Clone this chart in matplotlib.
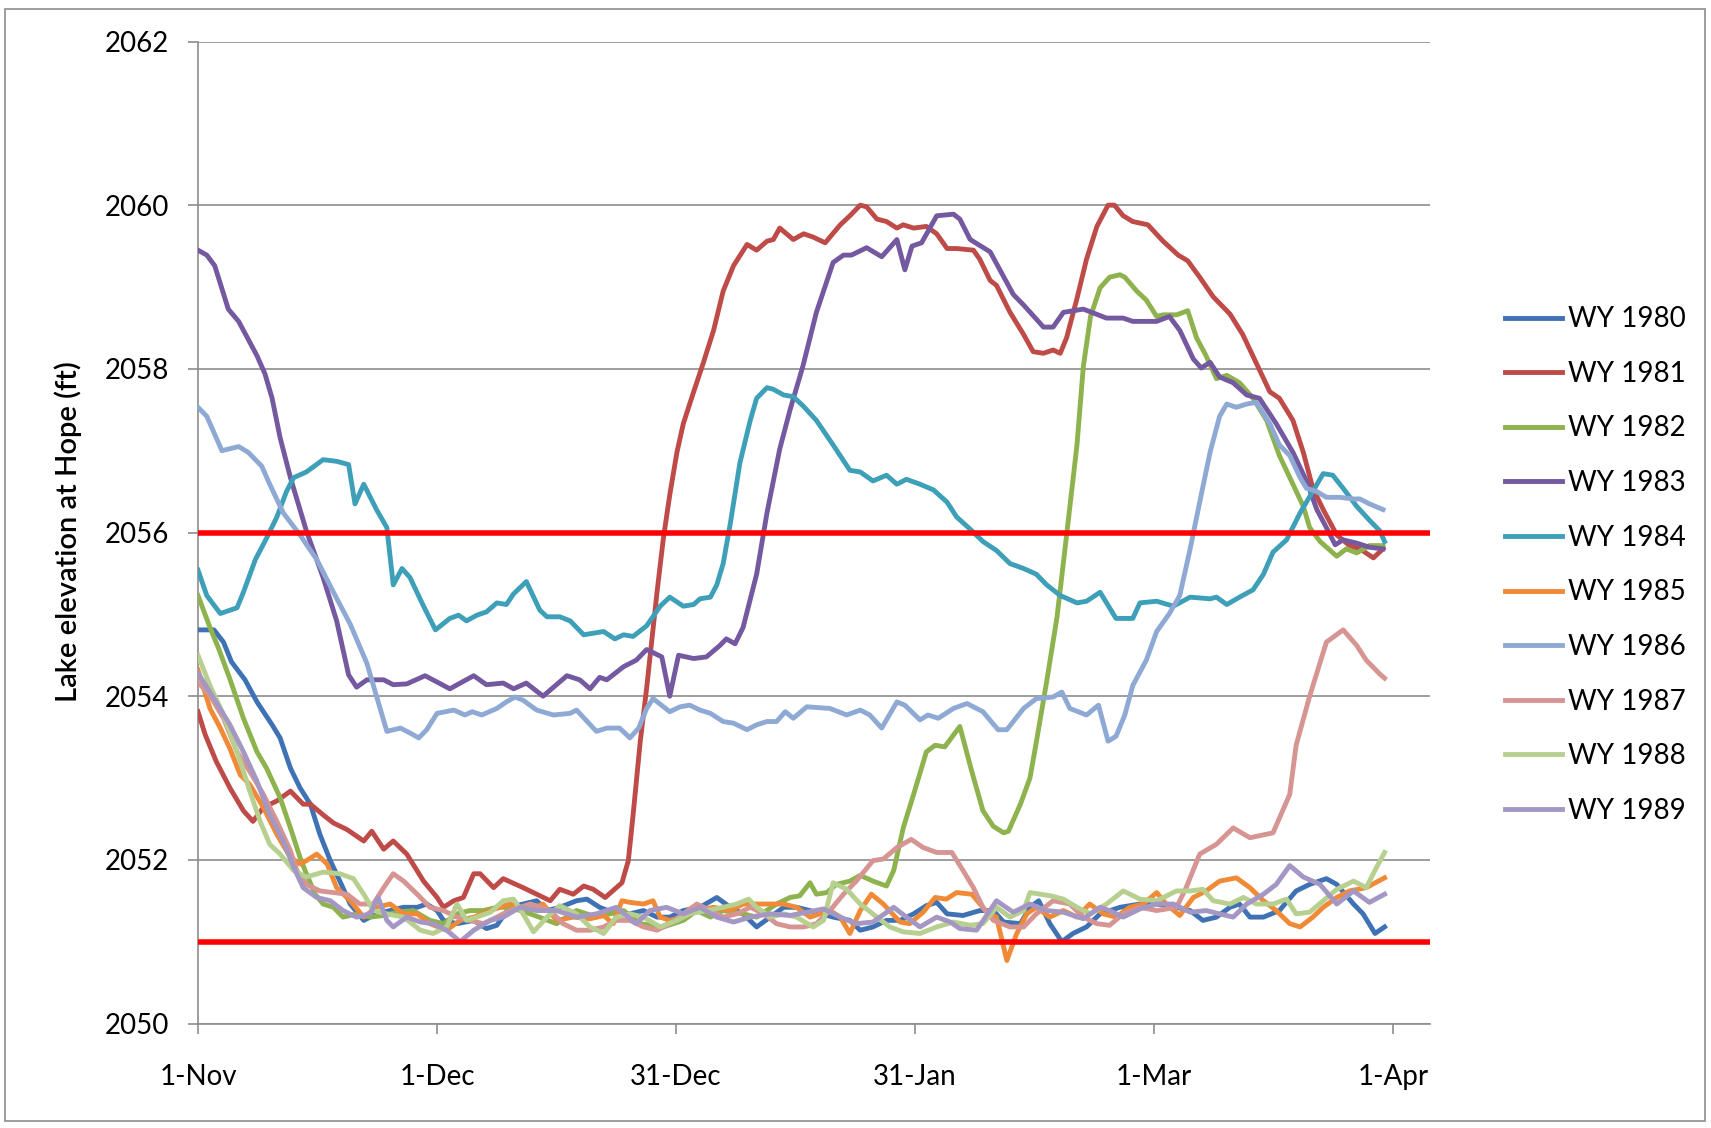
import matplotlib
matplotlib.use("Agg")
import matplotlib.pyplot as plt
from matplotlib.patches import Rectangle

plt.rcParams['font.family'] = ['Lato', 'DejaVu Sans']

# day index from 1-Nov, lake elevation (ft)
wy1980 = [(0, 2054.81), (2.0, 2054.81), (3.2, 2054.66), (4.2, 2054.42), (5.9, 2054.2), (7.4, 2053.93),
          (9.3, 2053.65), (10.3, 2053.49), (11.6, 2053.12), (12.8, 2052.88), (14.1, 2052.68), (15.3, 2052.31),
          (16.6, 2051.99), (17.8, 2051.74), (19.1, 2051.46), (20.8, 2051.26), (22.4, 2051.34), (24.1, 2051.38),
          (25.8, 2051.42), (27.5, 2051.42), (28.7, 2051.46), (30.0, 2051.38), (30.8, 2051.26), (32.5, 2051.22),
          (34.6, 2051.26), (36.2, 2051.16), (37.5, 2051.2), (39.1, 2051.42), (40.8, 2051.46), (42.5, 2051.5),
          (43.8, 2051.38), (45.4, 2051.42), (47.5, 2051.5), (48.8, 2051.52), (50.4, 2051.42), (52.5, 2051.34),
          (54.2, 2051.34), (55.9, 2051.38), (57.6, 2051.3), (59.2, 2051.3), (60.9, 2051.38), (63.0, 2051.42),
          (65.1, 2051.54), (66.8, 2051.42), (68.4, 2051.34), (70.1, 2051.18), (71.8, 2051.3), (73.5, 2051.42),
          (75.1, 2051.42), (76.8, 2051.38), (79.7, 2051.3), (81.8, 2051.26), (83.1, 2051.14), (84.7, 2051.18),
          (86.4, 2051.26), (88.1, 2051.26), (89.8, 2051.34), (91.4, 2051.44), (92.7, 2051.48), (94.0, 2051.34),
          (96.0, 2051.32), (98.1, 2051.38), (99.8, 2051.38), (101.1, 2051.24), (103.2, 2051.22), (104.4, 2051.42),
          (105.5, 2051.5), (106.9, 2051.22), (108.4, 2051.0), (109.8, 2051.1), (111.5, 2051.18), (113.2, 2051.34),
          (115.7, 2051.42), (118.2, 2051.46), (120.3, 2051.46), (122.8, 2051.42), (124.5, 2051.38), (126.1, 2051.26),
          (127.8, 2051.3), (129.5, 2051.42), (130.7, 2051.46), (132.0, 2051.3), (133.7, 2051.3), (135.7, 2051.38),
          (137.8, 2051.62), (139.5, 2051.7), (141.6, 2051.77), (142.9, 2051.7), (145.0, 2051.46), (146.2, 2051.34),
          (147.7, 2051.1), (148.9, 2051.18)]

wy1981 = [(0, 2053.81), (0.9, 2053.53), (2.3, 2053.2), (4.0, 2052.88), (5.7, 2052.6), (6.9, 2052.47),
          (8.2, 2052.64), (9.9, 2052.72), (11.6, 2052.84), (12.4, 2052.76), (13.2, 2052.68), (14.1, 2052.68),
          (15.7, 2052.55), (17.0, 2052.45), (18.7, 2052.37), (20.8, 2052.23), (21.8, 2052.35), (23.3, 2052.13),
          (24.5, 2052.23), (26.2, 2052.07), (28.3, 2051.74), (30.0, 2051.54), (30.8, 2051.42), (32.1, 2051.5),
          (33.3, 2051.54), (34.6, 2051.83), (35.4, 2051.83), (37.1, 2051.66), (38.3, 2051.77), (40.8, 2051.66),
          (44.2, 2051.5), (45.4, 2051.64), (47.1, 2051.58), (48.4, 2051.68), (49.6, 2051.64), (51.1, 2051.54),
          (53.2, 2051.72), (54.0, 2051.99), (54.6, 2052.55), (55.5, 2053.45), (56.3, 2054.1), (57.6, 2055.27),
          (58.4, 2055.93), (59.2, 2056.46), (60.1, 2056.98), (60.9, 2057.33), (62.2, 2057.72), (63.4, 2058.07),
          (64.7, 2058.47), (65.9, 2058.95), (67.2, 2059.26), (68.9, 2059.52), (70.1, 2059.45), (71.4, 2059.56),
          (72.2, 2059.58), (73.0, 2059.72), (74.7, 2059.58), (76.0, 2059.65), (77.2, 2059.61), (78.7, 2059.54),
          (80.6, 2059.76), (81.8, 2059.87), (83.1, 2060.0), (83.9, 2059.98), (85.2, 2059.83), (86.4, 2059.8),
          (87.7, 2059.72), (88.5, 2059.76), (89.8, 2059.72), (91.4, 2059.74), (92.7, 2059.65), (94.0, 2059.47),
          (95.2, 2059.47), (97.3, 2059.45), (98.1, 2059.34), (99.4, 2059.08), (100.2, 2059.02), (101.9, 2058.69),
          (103.6, 2058.42), (104.8, 2058.21), (106.1, 2058.19), (107.3, 2058.23), (108.2, 2058.19), (109.0, 2058.38),
          (110.3, 2058.86), (111.5, 2059.34), (112.8, 2059.74), (114.2, 2060.0), (115.0, 2060.0), (116.1, 2059.87),
          (117.3, 2059.8), (119.2, 2059.76), (121.1, 2059.56), (123.0, 2059.39), (124.2, 2059.32), (125.7, 2059.12),
          (127.4, 2058.88), (129.5, 2058.67), (131.1, 2058.42), (132.8, 2058.07), (134.5, 2057.72), (135.7, 2057.64),
          (137.4, 2057.37), (138.7, 2056.98), (139.9, 2056.54), (141.2, 2056.28), (142.9, 2055.97), (144.5, 2055.84),
          (145.8, 2055.8), (147.5, 2055.69), (148.7, 2055.8)]

wy1982 = [(0, 2055.23), (1.5, 2054.84), (2.6, 2054.58), (4.0, 2054.21), (5.7, 2053.73), (7.4, 2053.32),
          (8.6, 2053.12), (10.3, 2052.76), (11.6, 2052.39), (12.8, 2052.03), (13.6, 2051.83), (14.7, 2051.58),
          (15.7, 2051.46), (17.0, 2051.42), (18.2, 2051.3), (19.9, 2051.34), (21.6, 2051.3), (23.3, 2051.32),
          (25.0, 2051.36), (27.0, 2051.38), (29.1, 2051.26), (30.8, 2051.22), (32.5, 2051.34), (34.1, 2051.38),
          (35.8, 2051.38), (37.5, 2051.42), (39.1, 2051.42), (41.7, 2051.34), (45.0, 2051.22), (47.5, 2051.38),
          (50.0, 2051.3), (53.4, 2051.38), (55.5, 2051.22), (58.4, 2051.18), (60.9, 2051.26), (62.6, 2051.38),
          (64.3, 2051.3), (65.9, 2051.38), (68.4, 2051.34), (70.1, 2051.3), (72.6, 2051.46), (74.3, 2051.54),
          (75.5, 2051.56), (76.8, 2051.72), (77.6, 2051.58), (78.9, 2051.6), (80.1, 2051.7), (81.8, 2051.74),
          (83.1, 2051.81), (84.7, 2051.74), (86.4, 2051.68), (87.3, 2051.87), (88.5, 2052.39), (89.8, 2052.8),
          (91.4, 2053.32), (92.5, 2053.4), (93.7, 2053.38), (95.6, 2053.63), (97.1, 2053.08), (98.5, 2052.6),
          (99.8, 2052.41), (101.1, 2052.33), (101.7, 2052.35), (103.2, 2052.68), (104.4, 2053.0), (105.2, 2053.44),
          (106.5, 2054.18), (107.8, 2054.97), (109.0, 2055.97), (110.3, 2057.07), (111.1, 2058.03), (112.0, 2058.64),
          (113.2, 2058.99), (114.4, 2059.12), (115.7, 2059.15), (116.3, 2059.12), (117.8, 2058.95), (119.0, 2058.84),
          (120.3, 2058.64), (121.1, 2058.66), (122.8, 2058.66), (124.2, 2058.71), (125.3, 2058.38), (126.5, 2058.16),
          (127.8, 2057.88), (129.1, 2057.92), (130.7, 2057.83), (132.4, 2057.64), (134.1, 2057.37), (135.7, 2056.94),
          (137.4, 2056.59), (138.7, 2056.32), (139.5, 2056.06), (140.8, 2055.89), (142.9, 2055.71), (144.1, 2055.8),
          (145.4, 2055.75), (147.0, 2055.84), (148.7, 2055.84)]

wy1983 = [(0, 2059.45), (1.1, 2059.39), (2.1, 2059.26), (3.8, 2058.73), (5.1, 2058.58), (7.4, 2058.16),
          (8.4, 2057.94), (9.3, 2057.64), (10.3, 2057.16), (11.6, 2056.67), (13.6, 2056.02), (15.7, 2055.45),
          (17.4, 2054.92), (18.9, 2054.26), (19.9, 2054.11), (21.2, 2054.2), (23.3, 2054.2), (24.5, 2054.14),
          (26.2, 2054.15), (28.5, 2054.25), (31.6, 2054.09), (34.6, 2054.25), (36.2, 2054.14), (38.3, 2054.16),
          (39.6, 2054.09), (41.2, 2054.16), (43.3, 2054.0), (46.3, 2054.25), (47.9, 2054.2), (49.2, 2054.09),
          (50.4, 2054.23), (51.3, 2054.2), (53.4, 2054.36), (55.0, 2054.44), (56.3, 2054.57), (58.2, 2054.48),
          (59.2, 2054.0), (60.3, 2054.5), (62.2, 2054.46), (63.8, 2054.48), (65.5, 2054.62), (66.3, 2054.7),
          (67.4, 2054.64), (68.4, 2054.84), (70.1, 2055.49), (71.4, 2056.24), (73.0, 2057.02), (74.3, 2057.5),
          (75.9, 2058.03), (77.6, 2058.69), (79.7, 2059.3), (81.0, 2059.39), (82.0, 2059.39), (83.9, 2059.48),
          (85.8, 2059.37), (87.7, 2059.58), (88.7, 2059.21), (89.6, 2059.5), (90.8, 2059.54), (92.7, 2059.87),
          (94.8, 2059.89), (95.6, 2059.83), (96.9, 2059.58), (99.4, 2059.43), (102.3, 2058.91), (103.6, 2058.78),
          (106.1, 2058.51), (107.3, 2058.51), (108.6, 2058.69), (111.1, 2058.73), (114.0, 2058.62), (116.1, 2058.62),
          (117.3, 2058.58), (120.3, 2058.58), (121.9, 2058.64), (123.2, 2058.47), (124.9, 2058.12), (125.9, 2058.01),
          (127.0, 2058.08), (128.2, 2057.9), (129.9, 2057.83), (131.6, 2057.68), (133.2, 2057.64), (135.3, 2057.33),
          (137.4, 2056.98), (139.1, 2056.63), (140.4, 2056.28), (141.6, 2056.06), (142.7, 2055.85), (143.7, 2055.91),
          (145.4, 2055.87), (147.0, 2055.82), (148.7, 2055.8)]

wy1984 = [(0, 2055.54), (1.1, 2055.23), (2.8, 2055.01), (4.9, 2055.08), (5.7, 2055.27), (7.2, 2055.67),
          (8.6, 2055.93), (9.9, 2056.19), (11.1, 2056.5), (12.0, 2056.67), (13.6, 2056.74), (15.7, 2056.89),
          (17.4, 2056.87), (18.9, 2056.83), (19.7, 2056.35), (20.8, 2056.59), (22.4, 2056.28), (23.7, 2056.06),
          (24.5, 2055.36), (25.6, 2055.56), (26.6, 2055.45), (28.3, 2055.1), (29.8, 2054.81), (31.6, 2054.95),
          (32.7, 2054.99), (33.7, 2054.92), (35.0, 2054.99), (36.2, 2055.03), (37.5, 2055.14), (38.7, 2055.12),
          (39.6, 2055.25), (41.2, 2055.4), (42.9, 2055.05), (43.8, 2054.97), (45.4, 2054.97), (46.7, 2054.92),
          (48.4, 2054.75), (50.9, 2054.79), (52.3, 2054.7), (53.4, 2054.75), (54.6, 2054.73), (56.3, 2054.86),
          (58.0, 2055.1), (59.2, 2055.21), (60.9, 2055.1), (62.2, 2055.12), (63.0, 2055.19), (64.3, 2055.21),
          (65.1, 2055.36), (65.9, 2055.62), (66.8, 2056.11), (68.0, 2056.85), (69.3, 2057.37), (70.1, 2057.64),
          (71.4, 2057.77), (72.2, 2057.75), (73.5, 2057.68), (74.7, 2057.66), (75.9, 2057.55), (77.6, 2057.37),
          (79.7, 2057.07), (81.8, 2056.76), (83.1, 2056.74), (84.7, 2056.63), (86.4, 2056.7), (87.7, 2056.59),
          (88.9, 2056.65), (90.6, 2056.59), (92.3, 2056.52), (94.0, 2056.37), (95.2, 2056.19), (96.9, 2056.04),
          (98.5, 2055.89), (100.2, 2055.78), (101.9, 2055.62), (103.6, 2055.56), (105.2, 2055.49), (106.5, 2055.36),
          (108.2, 2055.23), (110.3, 2055.14), (111.5, 2055.16), (113.2, 2055.27), (115.2, 2054.95), (117.3, 2054.95),
          (118.2, 2055.14), (120.3, 2055.16), (122.4, 2055.1), (124.5, 2055.21), (127.0, 2055.19), (127.8, 2055.21),
          (129.1, 2055.12), (130.7, 2055.21), (132.4, 2055.3), (133.7, 2055.49), (134.9, 2055.76), (136.6, 2055.91),
          (138.3, 2056.24), (140.0, 2056.52), (141.2, 2056.72), (142.4, 2056.7), (143.7, 2056.54), (145.4, 2056.32),
          (147.0, 2056.15), (148.3, 2056.02), (148.9, 2055.89)]

wy1985 = [(0, 2054.32), (1.5, 2053.85), (2.8, 2053.61), (4.0, 2053.36), (5.3, 2053.04), (6.5, 2052.92),
          (8.2, 2052.64), (9.9, 2052.31), (11.6, 2052.03), (12.8, 2051.95), (13.6, 2051.99), (14.9, 2052.07),
          (16.2, 2051.95), (17.4, 2051.66), (19.1, 2051.5), (20.8, 2051.3), (22.4, 2051.42), (24.1, 2051.46),
          (25.8, 2051.34), (27.5, 2051.34), (29.1, 2051.22), (31.2, 2051.14), (32.9, 2051.26), (34.6, 2051.3),
          (36.7, 2051.38), (39.1, 2051.46), (41.7, 2051.4), (43.3, 2051.46), (45.0, 2051.26), (47.1, 2051.3),
          (49.2, 2051.28), (50.9, 2051.32), (52.1, 2051.22), (53.2, 2051.5), (54.2, 2051.48), (55.9, 2051.46),
          (57.1, 2051.5), (58.0, 2051.3), (59.2, 2051.26), (60.9, 2051.3), (62.6, 2051.38), (64.7, 2051.42),
          (66.8, 2051.38), (68.4, 2051.46), (70.1, 2051.46), (71.8, 2051.46), (73.5, 2051.46), (75.1, 2051.42),
          (76.8, 2051.3), (79.3, 2051.38), (80.6, 2051.3), (81.8, 2051.1), (83.1, 2051.38), (84.5, 2051.58),
          (86.0, 2051.46), (88.1, 2051.24), (89.3, 2051.22), (91.0, 2051.36), (92.5, 2051.54), (93.9, 2051.52),
          (95.2, 2051.6), (97.1, 2051.58), (99.0, 2051.36), (100.2, 2051.3), (101.5, 2050.77), (102.7, 2051.09),
          (104.0, 2051.34), (105.2, 2051.42), (106.9, 2051.3), (108.6, 2051.38), (110.3, 2051.3), (111.9, 2051.46),
          (113.6, 2051.34), (115.2, 2051.3), (116.9, 2051.42), (118.6, 2051.46), (120.3, 2051.6), (121.5, 2051.46),
          (123.2, 2051.32), (124.9, 2051.54), (126.5, 2051.62), (128.2, 2051.74), (130.3, 2051.78), (132.0, 2051.66),
          (133.7, 2051.5), (135.3, 2051.38), (137.0, 2051.22), (138.3, 2051.18), (139.9, 2051.3), (141.2, 2051.42),
          (142.9, 2051.54), (144.5, 2051.62), (146.6, 2051.66), (148.9, 2051.78)]

wy1986 = [(0, 2057.53), (1.1, 2057.42), (3.0, 2057.0), (5.1, 2057.05), (6.3, 2056.98), (8.0, 2056.81),
          (9.0, 2056.59), (10.7, 2056.24), (12.8, 2055.97), (14.9, 2055.67), (17.0, 2055.27), (19.1, 2054.88),
          (21.2, 2054.4), (22.4, 2054.0), (23.7, 2053.57), (25.4, 2053.61), (26.6, 2053.55), (27.7, 2053.49),
          (28.7, 2053.59), (30.0, 2053.79), (32.1, 2053.83), (33.5, 2053.77), (34.4, 2053.81), (35.6, 2053.77),
          (37.5, 2053.85), (38.7, 2053.93), (39.8, 2053.99), (40.8, 2053.95), (42.5, 2053.83), (44.6, 2053.77),
          (46.7, 2053.79), (47.5, 2053.83), (50.0, 2053.57), (51.3, 2053.61), (52.9, 2053.61), (54.2, 2053.49),
          (55.3, 2053.61), (56.3, 2053.85), (57.1, 2053.97), (59.2, 2053.81), (60.5, 2053.87), (61.7, 2053.89),
          (63.0, 2053.83), (64.3, 2053.79), (65.9, 2053.69), (67.2, 2053.67), (68.9, 2053.59), (70.1, 2053.65),
          (71.4, 2053.69), (72.6, 2053.69), (73.7, 2053.81), (74.7, 2053.73), (76.4, 2053.87), (79.3, 2053.85),
          (81.4, 2053.77), (83.1, 2053.83), (84.3, 2053.77), (85.8, 2053.61), (87.7, 2053.93), (88.7, 2053.89),
          (90.6, 2053.71), (91.6, 2053.77), (92.9, 2053.73), (94.8, 2053.85), (96.5, 2053.91), (98.5, 2053.81),
          (100.4, 2053.59), (101.5, 2053.59), (103.6, 2053.85), (105.2, 2053.97), (107.3, 2053.99), (108.4, 2054.05),
          (109.4, 2053.85), (111.5, 2053.77), (113.0, 2053.89), (114.2, 2053.45), (115.2, 2053.51), (116.3, 2053.77),
          (117.3, 2054.13), (119.0, 2054.44), (120.3, 2054.79), (121.9, 2055.01), (123.2, 2055.23), (124.5, 2055.8),
          (125.7, 2056.37), (127.0, 2056.98), (128.2, 2057.42), (129.1, 2057.57), (130.3, 2057.53), (131.6, 2057.57),
          (132.8, 2057.59), (134.5, 2057.33), (135.7, 2057.07), (137.0, 2056.94), (138.3, 2056.67), (139.1, 2056.54),
          (140.4, 2056.5), (141.6, 2056.43), (143.3, 2056.43), (144.9, 2056.41), (145.8, 2056.41), (147.0, 2056.35),
          (148.7, 2056.28)]

wy1987 = [(0, 2054.17), (1.5, 2054.01), (3.2, 2053.73), (4.9, 2053.32), (6.5, 2053.08), (8.2, 2052.8),
          (9.9, 2052.47), (11.6, 2052.11), (12.4, 2051.87), (13.6, 2051.7), (15.3, 2051.62), (17.0, 2051.6),
          (18.7, 2051.58), (20.3, 2051.46), (22.0, 2051.46), (23.3, 2051.66), (24.5, 2051.83), (25.8, 2051.74),
          (27.5, 2051.58), (29.1, 2051.42), (30.8, 2051.38), (32.5, 2051.3), (34.1, 2051.26), (35.8, 2051.22),
          (37.5, 2051.3), (39.1, 2051.38), (41.7, 2051.46), (44.2, 2051.38), (45.8, 2051.22), (47.5, 2051.14),
          (49.2, 2051.14), (50.9, 2051.18), (52.5, 2051.26), (54.2, 2051.26), (55.9, 2051.18), (57.6, 2051.14),
          (59.2, 2051.22), (60.9, 2051.34), (62.6, 2051.46), (64.3, 2051.38), (65.9, 2051.3), (67.6, 2051.34),
          (69.3, 2051.42), (71.0, 2051.34), (72.6, 2051.22), (74.3, 2051.18), (76.0, 2051.18), (77.6, 2051.22),
          (79.3, 2051.38), (81.0, 2051.58), (82.6, 2051.74), (84.7, 2051.99), (86.0, 2052.01), (87.7, 2052.15),
          (89.5, 2052.25), (91.0, 2052.15), (92.7, 2052.09), (94.6, 2052.09), (96.0, 2051.87), (97.3, 2051.66),
          (98.5, 2051.42), (99.8, 2051.26), (101.9, 2051.18), (103.6, 2051.18), (105.2, 2051.34), (107.3, 2051.5),
          (109.4, 2051.46), (111.1, 2051.3), (112.8, 2051.22), (114.4, 2051.2), (116.1, 2051.34), (118.2, 2051.42),
          (120.3, 2051.38), (122.8, 2051.42), (124.0, 2051.66), (125.7, 2052.07), (127.8, 2052.19), (129.9, 2052.39),
          (132.0, 2052.27), (134.9, 2052.33), (137.0, 2052.8), (137.8, 2053.4), (139.5, 2054.0), (141.6, 2054.66),
          (143.7, 2054.81), (145.4, 2054.62), (146.6, 2054.44), (148.3, 2054.27), (148.9, 2054.22)]

wy1988 = [(0, 2054.5), (1.5, 2054.13), (3.2, 2053.77), (4.9, 2053.32), (6.5, 2052.84), (7.8, 2052.47),
          (9.0, 2052.19), (10.3, 2052.07), (12.0, 2051.87), (13.6, 2051.79), (15.7, 2051.85), (17.8, 2051.83),
          (19.5, 2051.77), (20.8, 2051.58), (22.0, 2051.38), (23.7, 2051.34), (25.8, 2051.3), (27.9, 2051.14),
          (29.5, 2051.1), (31.2, 2051.18), (32.5, 2051.46), (33.7, 2051.26), (35.0, 2051.3), (36.7, 2051.36),
          (38.3, 2051.5), (39.6, 2051.52), (40.8, 2051.34), (42.1, 2051.12), (43.8, 2051.3), (45.4, 2051.44),
          (47.5, 2051.34), (49.2, 2051.18), (50.9, 2051.1), (52.5, 2051.3), (54.2, 2051.34), (55.9, 2051.3),
          (58.0, 2051.18), (60.1, 2051.26), (61.7, 2051.34), (63.8, 2051.38), (65.9, 2051.42), (67.6, 2051.46),
          (69.1, 2051.52), (70.1, 2051.42), (71.8, 2051.3), (73.5, 2051.34), (75.1, 2051.3), (77.2, 2051.18),
          (78.5, 2051.26), (79.7, 2051.72), (81.4, 2051.64), (83.1, 2051.46), (85.2, 2051.3), (86.8, 2051.18),
          (88.5, 2051.12), (90.6, 2051.1), (92.7, 2051.18), (94.8, 2051.24), (96.9, 2051.2), (98.5, 2051.22),
          (100.2, 2051.42), (101.9, 2051.3), (103.6, 2051.38), (104.4, 2051.6), (107.0, 2051.56), (108.6, 2051.52),
          (110.3, 2051.42), (112.0, 2051.34), (114.0, 2051.46), (116.1, 2051.62), (118.2, 2051.52), (120.3, 2051.5),
          (122.8, 2051.62), (124.5, 2051.62), (126.1, 2051.64), (127.4, 2051.5), (129.5, 2051.46), (131.2, 2051.54),
          (132.8, 2051.46), (134.9, 2051.46), (136.6, 2051.52), (137.8, 2051.34), (139.5, 2051.36), (141.2, 2051.5),
          (142.9, 2051.64), (145.0, 2051.74), (146.6, 2051.66), (147.9, 2051.91), (148.9, 2052.09)]

wy1989 = [(0, 2054.28), (1.5, 2054.05), (4.0, 2053.65), (5.7, 2053.32), (7.4, 2052.96), (9.0, 2052.55),
          (10.7, 2052.23), (12.0, 2051.91), (13.2, 2051.66), (14.9, 2051.54), (16.6, 2051.5), (18.2, 2051.38),
          (19.9, 2051.3), (21.6, 2051.34), (22.6, 2051.54), (23.7, 2051.26), (24.5, 2051.18), (26.2, 2051.3),
          (27.9, 2051.24), (29.5, 2051.22), (31.2, 2051.14), (32.9, 2051.0), (34.6, 2051.14), (36.7, 2051.26),
          (38.3, 2051.3), (40.4, 2051.42), (42.5, 2051.38), (45.0, 2051.38), (47.5, 2051.3), (50.0, 2051.34),
          (52.5, 2051.42), (55.0, 2051.22), (56.7, 2051.38), (58.8, 2051.42), (60.9, 2051.34), (63.0, 2051.42),
          (65.1, 2051.3), (67.2, 2051.24), (69.3, 2051.3), (71.8, 2051.34), (74.3, 2051.32), (76.4, 2051.36),
          (78.5, 2051.4), (80.6, 2051.3), (82.6, 2051.22), (84.7, 2051.24), (87.3, 2051.42), (88.9, 2051.3),
          (90.6, 2051.18), (92.7, 2051.3), (94.4, 2051.24), (95.6, 2051.16), (97.7, 2051.14), (100.2, 2051.5),
          (102.3, 2051.36), (104.4, 2051.46), (106.5, 2051.38), (108.6, 2051.36), (111.1, 2051.28), (113.2, 2051.42),
          (114.4, 2051.38), (116.1, 2051.3), (118.2, 2051.4), (120.3, 2051.46), (122.4, 2051.46), (124.5, 2051.36),
          (126.5, 2051.38), (128.2, 2051.34), (129.9, 2051.3), (131.6, 2051.46), (133.7, 2051.58), (135.3, 2051.7),
          (137.0, 2051.93), (138.7, 2051.79), (140.8, 2051.7), (142.9, 2051.46), (145.0, 2051.62), (147.0, 2051.48),
          (148.9, 2051.58)]

labels = ['WY 1980', 'WY 1981', 'WY 1982', 'WY 1983', 'WY 1984',
          'WY 1985', 'WY 1986', 'WY 1987', 'WY 1988', 'WY 1989']
series = [wy1980, wy1981, wy1982, wy1983, wy1984, wy1985, wy1986, wy1987, wy1988, wy1989]
colors = ['#3F72B5', '#BE4B48', '#8DB24E', '#7458A0', '#3E9FB8',
          '#F08A36', '#8EA9D4', '#D69593', '#B7D08F', '#A597C3']

limits = [2056, 2051]
tick_days = [0, 30, 60, 90, 120, 150]
tick_labels = ['1-Nov', '1-Dec', '31-Dec', '31-Jan', '1-Mar', '1-Apr']

W, H = 1711, 1128
fig = plt.figure(figsize=(W / 100, H / 100), dpi=100)
fig.patches.append(Rectangle((5 / W, 1 - 1121 / H), 1700 / W, 1112 / H, transform=fig.transFigure,
                             fill=False, edgecolor='#8c8c8c', linewidth=1.2))

ax = fig.add_axes([198 / W, 1 - 1023.5 / H, (1430 - 198) / W, (1023.5 - 41.5) / H])

gray = '#8c8c8c'
for i, s in enumerate(series):
    d = [p[0] for p in s]
    v = [p[1] for p in s]
    ax.plot(d, v, color=colors[i], lw=3.5, label=labels[i], solid_joinstyle='round', zorder=3 + i * 0.01)

for lim in limits:
    ax.axhline(lim, color='#FF0000', lw=4, zorder=5)

ax.set_xlim(0, 154.6)
ax.set_ylim(2050, 2062)
ax.set_yticks(range(2050, 2063, 2))
ax.set_xticks(tick_days)
ax.set_xticklabels(tick_labels)
ax.yaxis.grid(True, color=gray, lw=1.2)
ax.set_axisbelow(True)
for side in ['top', 'right']:
    ax.spines[side].set_visible(False)
for side in ['left', 'bottom']:
    ax.spines[side].set_color(gray)
    ax.spines[side].set_linewidth(1.2)
ax.tick_params(axis='y', length=7, width=1.2, color=gray, pad=14, labelsize=20)
ax.tick_params(axis='x', length=7, width=1.2, color=gray, pad=22, labelsize=20)

# axis title centred on the plot height
fig.text(68 / W, 1 - 532 / H, 'Lake elevation at Hope (ft)', rotation=90, ha='center', va='center',
         fontsize=21, fontweight='semibold')

ax.legend(loc='center left', bbox_to_anchor=(1505 / W, 1 - 565 / H), bbox_transform=fig.transFigure,
          frameon=False, fontsize=20, handlelength=2.05, handletextpad=0.2, labelspacing=1.03,
          borderpad=0, borderaxespad=0)

fig.savefig('out.png', dpi=100)
